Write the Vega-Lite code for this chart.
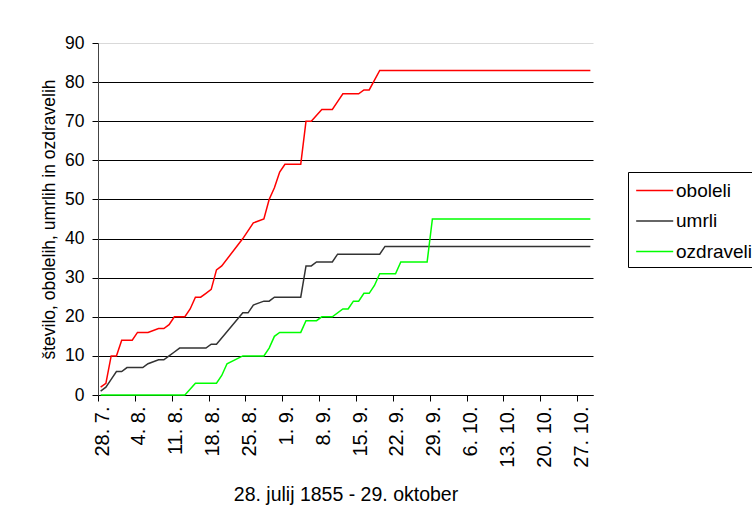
{
  "$schema": "https://vega.github.io/schema/vega-lite/v6.json",
  "width": 495,
  "height": 352,
  "autosize": {"type": "none"},
  "padding": {"left": 98, "top": 43, "right": 159, "bottom": 123},
  "background": "white",
  "config": {"view": {"stroke": null}, "font": "Liberation Sans"},
  "data": {"values": [
    {"date": "1855-07-28T12:00:00Z", "series": "oboleli", "value": 2},
    {"date": "1855-07-29T12:00:00Z", "series": "oboleli", "value": 3},
    {"date": "1855-07-30T12:00:00Z", "series": "oboleli", "value": 10},
    {"date": "1855-07-31T12:00:00Z", "series": "oboleli", "value": 10},
    {"date": "1855-08-01T12:00:00Z", "series": "oboleli", "value": 14},
    {"date": "1855-08-03T12:00:00Z", "series": "oboleli", "value": 14},
    {"date": "1855-08-04T12:00:00Z", "series": "oboleli", "value": 16},
    {"date": "1855-08-06T12:00:00Z", "series": "oboleli", "value": 16},
    {"date": "1855-08-08T12:00:00Z", "series": "oboleli", "value": 17},
    {"date": "1855-08-09T12:00:00Z", "series": "oboleli", "value": 17},
    {"date": "1855-08-10T12:00:00Z", "series": "oboleli", "value": 18},
    {"date": "1855-08-11T12:00:00Z", "series": "oboleli", "value": 20},
    {"date": "1855-08-13T12:00:00Z", "series": "oboleli", "value": 20},
    {"date": "1855-08-14T12:00:00Z", "series": "oboleli", "value": 22},
    {"date": "1855-08-15T12:00:00Z", "series": "oboleli", "value": 25},
    {"date": "1855-08-16T12:00:00Z", "series": "oboleli", "value": 25},
    {"date": "1855-08-17T12:00:00Z", "series": "oboleli", "value": 26},
    {"date": "1855-08-18T12:00:00Z", "series": "oboleli", "value": 27},
    {"date": "1855-08-19T12:00:00Z", "series": "oboleli", "value": 32},
    {"date": "1855-08-20T12:00:00Z", "series": "oboleli", "value": 33},
    {"date": "1855-08-24T12:00:00Z", "series": "oboleli", "value": 40},
    {"date": "1855-08-26T12:00:00Z", "series": "oboleli", "value": 44},
    {"date": "1855-08-28T12:00:00Z", "series": "oboleli", "value": 45},
    {"date": "1855-08-29T12:00:00Z", "series": "oboleli", "value": 50},
    {"date": "1855-08-30T12:00:00Z", "series": "oboleli", "value": 53},
    {"date": "1855-08-31T12:00:00Z", "series": "oboleli", "value": 57},
    {"date": "1855-09-01T12:00:00Z", "series": "oboleli", "value": 59},
    {"date": "1855-09-04T12:00:00Z", "series": "oboleli", "value": 59},
    {"date": "1855-09-05T12:00:00Z", "series": "oboleli", "value": 70},
    {"date": "1855-09-06T12:00:00Z", "series": "oboleli", "value": 70},
    {"date": "1855-09-08T12:00:00Z", "series": "oboleli", "value": 73},
    {"date": "1855-09-10T12:00:00Z", "series": "oboleli", "value": 73},
    {"date": "1855-09-11T12:00:00Z", "series": "oboleli", "value": 75},
    {"date": "1855-09-12T12:00:00Z", "series": "oboleli", "value": 77},
    {"date": "1855-09-15T12:00:00Z", "series": "oboleli", "value": 77},
    {"date": "1855-09-16T12:00:00Z", "series": "oboleli", "value": 78},
    {"date": "1855-09-17T12:00:00Z", "series": "oboleli", "value": 78},
    {"date": "1855-09-19T12:00:00Z", "series": "oboleli", "value": 83},
    {"date": "1855-10-29T12:00:00Z", "series": "oboleli", "value": 83},

    {"date": "1855-07-28T12:00:00Z", "series": "umrli", "value": 1},
    {"date": "1855-07-29T12:00:00Z", "series": "umrli", "value": 2},
    {"date": "1855-07-30T12:00:00Z", "series": "umrli", "value": 4},
    {"date": "1855-07-31T12:00:00Z", "series": "umrli", "value": 6},
    {"date": "1855-08-01T12:00:00Z", "series": "umrli", "value": 6},
    {"date": "1855-08-02T12:00:00Z", "series": "umrli", "value": 7},
    {"date": "1855-08-05T12:00:00Z", "series": "umrli", "value": 7},
    {"date": "1855-08-06T12:00:00Z", "series": "umrli", "value": 8},
    {"date": "1855-08-08T12:00:00Z", "series": "umrli", "value": 9},
    {"date": "1855-08-09T12:00:00Z", "series": "umrli", "value": 9},
    {"date": "1855-08-10T12:00:00Z", "series": "umrli", "value": 10},
    {"date": "1855-08-11T12:00:00Z", "series": "umrli", "value": 11},
    {"date": "1855-08-12T12:00:00Z", "series": "umrli", "value": 12},
    {"date": "1855-08-17T12:00:00Z", "series": "umrli", "value": 12},
    {"date": "1855-08-18T12:00:00Z", "series": "umrli", "value": 13},
    {"date": "1855-08-19T12:00:00Z", "series": "umrli", "value": 13},
    {"date": "1855-08-24T12:00:00Z", "series": "umrli", "value": 21},
    {"date": "1855-08-25T12:00:00Z", "series": "umrli", "value": 21},
    {"date": "1855-08-26T12:00:00Z", "series": "umrli", "value": 23},
    {"date": "1855-08-28T12:00:00Z", "series": "umrli", "value": 24},
    {"date": "1855-08-29T12:00:00Z", "series": "umrli", "value": 24},
    {"date": "1855-08-30T12:00:00Z", "series": "umrli", "value": 25},
    {"date": "1855-09-04T12:00:00Z", "series": "umrli", "value": 25},
    {"date": "1855-09-05T12:00:00Z", "series": "umrli", "value": 33},
    {"date": "1855-09-06T12:00:00Z", "series": "umrli", "value": 33},
    {"date": "1855-09-07T12:00:00Z", "series": "umrli", "value": 34},
    {"date": "1855-09-10T12:00:00Z", "series": "umrli", "value": 34},
    {"date": "1855-09-11T12:00:00Z", "series": "umrli", "value": 36},
    {"date": "1855-09-19T12:00:00Z", "series": "umrli", "value": 36},
    {"date": "1855-09-20T12:00:00Z", "series": "umrli", "value": 38},
    {"date": "1855-10-29T12:00:00Z", "series": "umrli", "value": 38},

    {"date": "1855-07-28T12:00:00Z", "series": "ozdraveli", "value": 0},
    {"date": "1855-08-13T12:00:00Z", "series": "ozdraveli", "value": 0},
    {"date": "1855-08-15T12:00:00Z", "series": "ozdraveli", "value": 3},
    {"date": "1855-08-19T12:00:00Z", "series": "ozdraveli", "value": 3},
    {"date": "1855-08-20T12:00:00Z", "series": "ozdraveli", "value": 5},
    {"date": "1855-08-21T12:00:00Z", "series": "ozdraveli", "value": 8},
    {"date": "1855-08-24T12:00:00Z", "series": "ozdraveli", "value": 10},
    {"date": "1855-08-28T12:00:00Z", "series": "ozdraveli", "value": 10},
    {"date": "1855-08-29T12:00:00Z", "series": "ozdraveli", "value": 12},
    {"date": "1855-08-30T12:00:00Z", "series": "ozdraveli", "value": 15},
    {"date": "1855-08-31T12:00:00Z", "series": "ozdraveli", "value": 16},
    {"date": "1855-09-04T12:00:00Z", "series": "ozdraveli", "value": 16},
    {"date": "1855-09-05T12:00:00Z", "series": "ozdraveli", "value": 19},
    {"date": "1855-09-07T12:00:00Z", "series": "ozdraveli", "value": 19},
    {"date": "1855-09-08T12:00:00Z", "series": "ozdraveli", "value": 20},
    {"date": "1855-09-10T12:00:00Z", "series": "ozdraveli", "value": 20},
    {"date": "1855-09-12T12:00:00Z", "series": "ozdraveli", "value": 22},
    {"date": "1855-09-13T12:00:00Z", "series": "ozdraveli", "value": 22},
    {"date": "1855-09-14T12:00:00Z", "series": "ozdraveli", "value": 24},
    {"date": "1855-09-15T12:00:00Z", "series": "ozdraveli", "value": 24},
    {"date": "1855-09-16T12:00:00Z", "series": "ozdraveli", "value": 26},
    {"date": "1855-09-17T12:00:00Z", "series": "ozdraveli", "value": 26},
    {"date": "1855-09-18T12:00:00Z", "series": "ozdraveli", "value": 28},
    {"date": "1855-09-19T12:00:00Z", "series": "ozdraveli", "value": 31},
    {"date": "1855-09-22T12:00:00Z", "series": "ozdraveli", "value": 31},
    {"date": "1855-09-23T12:00:00Z", "series": "ozdraveli", "value": 34},
    {"date": "1855-09-28T12:00:00Z", "series": "ozdraveli", "value": 34},
    {"date": "1855-09-29T12:00:00Z", "series": "ozdraveli", "value": 45},
    {"date": "1855-10-29T12:00:00Z", "series": "ozdraveli", "value": 45}
  ]},
  "mark": {"type": "line", "strokeWidth": 1.5},
  "encoding": {
    "x": {
      "field": "date",
      "type": "temporal",
      "scale": {
        "type": "utc",
        "domain": [
          {"year": 1855, "month": "jul", "date": 28, "utc": true},
          {"year": 1855, "month": "oct", "date": 30, "utc": true}
        ]
      },
      "axis": {
        "values": [
          {"year": 1855, "month": "jul", "date": 28, "utc": true},
          {"year": 1855, "month": "aug", "date": 4, "utc": true},
          {"year": 1855, "month": "aug", "date": 11, "utc": true},
          {"year": 1855, "month": "aug", "date": 18, "utc": true},
          {"year": 1855, "month": "aug", "date": 25, "utc": true},
          {"year": 1855, "month": "sep", "date": 1, "utc": true},
          {"year": 1855, "month": "sep", "date": 8, "utc": true},
          {"year": 1855, "month": "sep", "date": 15, "utc": true},
          {"year": 1855, "month": "sep", "date": 22, "utc": true},
          {"year": 1855, "month": "sep", "date": 29, "utc": true},
          {"year": 1855, "month": "oct", "date": 6, "utc": true},
          {"year": 1855, "month": "oct", "date": 13, "utc": true},
          {"year": 1855, "month": "oct", "date": 20, "utc": true},
          {"year": 1855, "month": "oct", "date": 27, "utc": true}
        ],
        "format": "%-d. %-m.",
        "labelAngle": 270,
        "labelOffset": 4,
        "labelFontSize": 20,
        "labelColor": "black",
        "labelPadding": 5,
        "labelFlush": false,
        "labelOverlap": false,
        "tickSize": 6,
        "tickColor": "black",
        "domainColor": "black",
        "grid": false,
        "title": "28. julij 1855  - 29. oktober",
        "titleFontSize": 19.5,
        "titleFontWeight": "normal",
        "titleColor": "black",
        "titlePadding": 18
      }
    },
    "y": {
      "field": "value",
      "type": "quantitative",
      "scale": {"domain": [0, 90], "nice": false},
      "axis": {
        "values": [0, 10, 20, 30, 40, 50, 60, 70, 80, 90],
        "grid": true,
        "gridColor": {"condition": {"test": "datum.value === 90", "value": "#d9d9d9"}, "value": "black"},
        "gridOpacity": 1,
        "tickSize": 6,
        "tickColor": "black",
        "domainColor": "#444444",
        "labelFontSize": 17.5,
        "labelColor": "black",
        "labelPadding": 8,
        "title": "število, obolelih, umrlih in ozdravelih",
        "titleFontSize": 17.5,
        "titleFontWeight": "normal",
        "titleColor": "black",
        "titlePadding": 6
      }
    },
    "color": {
      "field": "series",
      "type": "nominal",
      "scale": {"domain": ["oboleli", "umrli", "ozdraveli"], "range": ["#ff0000", "#333333", "#00ff00"]},
      "legend": {
        "orient": "none",
        "legendX": 530,
        "legendY": 129,
        "title": null,
        "strokeColor": "black",
        "fillColor": "white",
        "padding": 5,
        "symbolType": "M-0.82,0H2.12",
        "symbolSize": 635,
        "symbolStrokeWidth": 1.5,
        "labelFontSize": 19,
        "labelColor": "black",
        "labelOffset": 16,
        "rowPadding": 6.5
      }
    }
  }
}
